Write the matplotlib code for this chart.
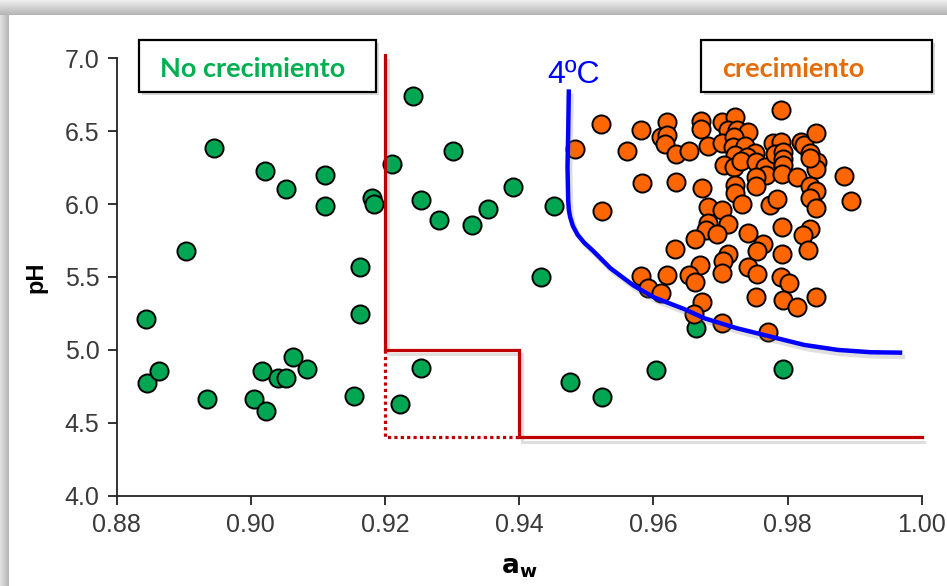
import numpy as np
import matplotlib
matplotlib.use("Agg")
import matplotlib.pyplot as plt
import matplotlib.patheffects as pe
from matplotlib.patches import Rectangle

# puntos sin crecimiento (aw, pH)
verde_aw = [0.8945, 0.8903, 0.9021, 0.9052, 0.9110, 0.9110, 0.9181, 0.9184, 0.9163,
            0.9241, 0.9210, 0.9302, 0.9253, 0.9280, 0.9330, 0.9391, 0.9353, 0.9452,
            0.9433, 0.8843, 0.8845, 0.8863, 0.8935, 0.9004, 0.9023, 0.9016, 0.9040,
            0.9052, 0.9063, 0.9083, 0.9153, 0.9163, 0.9222, 0.9253, 0.9663, 0.9476,
            0.9523, 0.9604, 0.9793]
verde_ph = [6.383, 5.680, 6.227, 6.104, 6.200, 5.990, 6.044, 6.000, 5.567,
            6.740, 6.275, 6.362, 6.030, 5.890, 5.857, 6.117, 5.966, 5.985,
            5.498, 5.210, 4.775, 4.853, 4.663, 4.665, 4.581, 4.855, 4.810,
            4.810, 4.950, 4.871, 4.684, 5.246, 4.629, 4.876, 5.152, 4.780,
            4.677, 4.862, 4.867]

# puntos con crecimiento (aw, pH)
naranja_aw = [0.9522, 0.9483, 0.9582, 0.9560, 0.9620, 0.9612, 0.9621, 0.9618, 0.9633,
              0.9653, 0.9671, 0.9671, 0.9681, 0.9703, 0.9722, 0.9712, 0.9725, 0.9741,
              0.9703, 0.9720, 0.9719, 0.9737, 0.9752, 0.9722, 0.9740, 0.9705, 0.9720,
              0.9731, 0.9753, 0.9767, 0.9768, 0.9790, 0.9778, 0.9790, 0.9781, 0.9793,
              0.9793, 0.9793, 0.9792, 0.9814, 0.9820, 0.9825, 0.9843, 0.9834, 0.9844,
              0.9842, 0.9833, 0.9884, 0.9894, 0.9583, 0.9634, 0.9672, 0.9722, 0.9722,
              0.9753, 0.9753, 0.9732, 0.9774, 0.9784, 0.9833, 0.9842, 0.9833, 0.9842,
              0.9523, 0.9681, 0.9702, 0.9681, 0.9712, 0.9678, 0.9695, 0.9741, 0.9792,
              0.9834, 0.9823, 0.9662, 0.9764, 0.9755, 0.9831, 0.9792, 0.9632, 0.9712,
              0.9704, 0.9669, 0.9703, 0.9741, 0.9754, 0.9653, 0.9662, 0.9621, 0.9582,
              0.9790, 0.9802, 0.9592, 0.9612, 0.9672, 0.9753, 0.9793, 0.9814, 0.9843,
              0.9661, 0.9703, 0.9771]
naranja_ph = [6.547, 6.378, 6.508, 6.362, 6.565, 6.458, 6.474, 6.412, 6.344,
              6.366, 6.572, 6.513, 6.400, 6.565, 6.600, 6.508, 6.508, 6.492,
              6.421, 6.458, 6.394, 6.398, 6.348, 6.337, 6.325, 6.268, 6.252,
              6.298, 6.291, 6.257, 6.200, 6.645, 6.417, 6.428, 6.344, 6.360,
              6.307, 6.268, 6.206, 6.188, 6.428, 6.405, 6.490, 6.353, 6.291,
              6.241, 6.314, 6.193, 6.019, 6.147, 6.154, 6.108, 6.131, 6.078,
              6.188, 6.126, 6.000, 5.994, 6.035, 6.126, 6.092, 6.040, 5.971,
              5.955, 5.982, 5.960, 5.872, 5.864, 5.822, 5.795, 5.804, 5.843,
              5.827, 5.788, 5.761, 5.725, 5.680, 5.685, 5.658, 5.692, 5.658,
              5.612, 5.582, 5.530, 5.571, 5.521, 5.514, 5.468, 5.514, 5.507,
              5.498, 5.461, 5.422, 5.388, 5.331, 5.365, 5.342, 5.292, 5.365,
              5.246, 5.183, 5.125]

# curva limite a 4 ºC
curva_aw = [0.9474, 0.9473, 0.9472, 0.9473, 0.9474, 0.9476, 0.9480, 0.9487, 0.9497,
            0.9510, 0.9536, 0.9571, 0.9601, 0.9646, 0.9676, 0.9725, 0.9775, 0.9825,
            0.9875, 0.9924, 0.9971]
curva_ph = [6.787, 6.486, 6.257, 6.028, 5.960, 5.910, 5.850, 5.790, 5.735,
            5.680, 5.560, 5.440, 5.360, 5.280, 5.217, 5.148, 5.091, 5.034,
            5.000, 4.984, 4.981]

# limite de crecimiento (escalon)
limite_aw = [0.92, 0.92, 0.94, 0.94, 1.00]
limite_ph = [7.02, 5.00, 5.00, 4.40, 4.40]
limite2_aw = [0.92, 0.92, 0.94]
limite2_ph = [5.00, 4.40, 4.40]

xticks = [0.88, 0.90, 0.92, 0.94, 0.96, 0.98, 1.00]
yticks = [4.0, 4.5, 5.0, 5.5, 6.0, 6.5, 7.0]

W, H = 947, 586
fig = plt.figure(figsize=(W / 100, H / 100), dpi=100)

# fondo con sombra arriba y a la izquierda
fondo = np.ones((H, W, 3))
for j in range(15):
    fondo[j, :, :] = 0.93 - 0.22 * (j / 14.0)
for i in range(9):
    v = 0.88 - 0.16 * (i / 8.0)
    fondo[15:, i, :] = np.minimum(fondo[15:, i, :], v)
fig.figimage(fondo, xo=0, yo=0, origin="upper", zorder=-10)

ax = fig.add_axes([116.7 / W, 1 - 495.7 / H, 805 / W, 437.4 / H], zorder=2)
ax.patch.set_alpha(0)

sombra_linea = [pe.SimpleLineShadow(offset=(2, -3), shadow_color="gray", alpha=0.25),
                pe.Normal()]

ax.scatter(verde_aw, verde_ph, s=170, c="#00A651", edgecolors="black",
           linewidths=1.4, zorder=3)
ax.scatter(naranja_aw, naranja_ph, s=170, c="#FF6600", edgecolors="black",
           linewidths=1.4, zorder=4)

ax.plot(limite_aw, limite_ph, color="#C00000", lw=2.3, zorder=5, clip_on=False,
        solid_joinstyle="miter", path_effects=sombra_linea)
ax.plot(limite2_aw, limite2_ph, color="#C00000", lw=2.3, ls=(0, (1, 1)), zorder=5,
        clip_on=False)
ax.plot(curva_aw, curva_ph, color="#0000FF", lw=3.2, zorder=6,
        solid_capstyle="butt", solid_joinstyle="round", path_effects=sombra_linea)
ax.text(0.9442, 6.83, "4ºC", color="#0000FF", fontsize=23,
        family="Liberation Sans", ha="left", va="baseline")

ax.set_xlim(0.88, 1.00)
ax.set_ylim(4.0, 7.0)
ax.set_xticks(xticks)
ax.set_yticks(yticks)
ax.set_xticklabels(["%.2f" % v for v in xticks])
ax.set_yticklabels(["%.1f" % v for v in yticks])
for s in ["top", "right"]:
    ax.spines[s].set_visible(False)
for s in ["left", "bottom"]:
    ax.spines[s].set_color("#222222")
    ax.spines[s].set_linewidth(1.3)
ax.tick_params(direction="out", length=6.5, width=1.3, color="#222222",
               labelsize=18, labelcolor="#3a3a3a", pad=6)
for lab in ax.get_xticklabels() + ax.get_yticklabels():
    lab.set_family("Liberation Sans")

ax.set_ylabel("pH", fontsize=17, fontweight="bold", family="Liberation Sans",
              labelpad=12)
ax.set_xlabel(r"$\mathbf{a}_{\mathbf{w}}$", fontsize=19, labelpad=12)

# cuadros de texto
cuadros = [(139, 237, "No crecimiento", "#00B050", 160),
           (701, 231, "crecimiento", "#E46C0A", 722)]
for x0, ancho, texto, color, xt in cuadros:
    r = Rectangle((x0 / W, 1 - 92 / H), ancho / W, 52 / H, transform=fig.transFigure,
                  facecolor="white", edgecolor="black", lw=1.6, zorder=10,
                  path_effects=[pe.SimplePatchShadow(offset=(2, -2), alpha=0.2),
                                pe.Normal()])
    fig.patches.append(r)
    fig.text(xt / W, 1 - 69 / H, texto, color=color, fontsize=19.5, fontweight="bold",
             family="Lato", ha="left", va="center", zorder=11)

fig.savefig("out.png", dpi=100)
